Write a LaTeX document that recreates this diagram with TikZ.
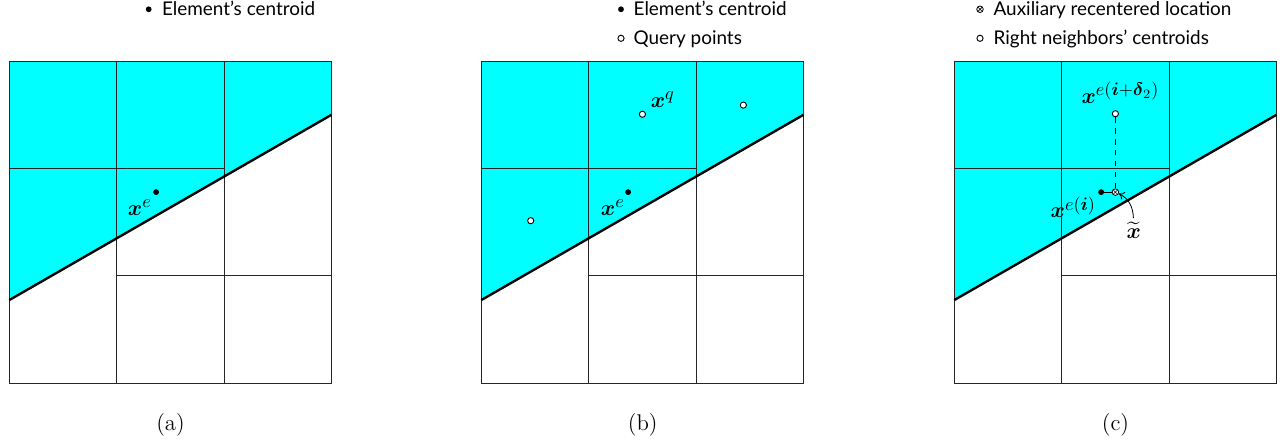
\documentclass[tikz,border=0pt]{standalone}
\usepackage{amsmath,amssymb}
\usepackage{fontspec}
\newfontfamily\legfont{Lato}
\usetikzlibrary{arrows.meta}
\DeclareMathSizes{12.5}{12.5}{9.6}{7.5}
\definecolor{aqua}{RGB}{0,255,255}
\tikzset{
  gridline/.style={line width=0.45pt, black!85},
  bnd/.style={line width=1.3pt, black},
  cdot/.style={circle, fill=black, inner sep=0pt, minimum size=3.2pt},
  qdot/.style={circle, draw=black, fill=white, inner sep=0pt, minimum size=3.4pt, line width=0.5pt},
  auxdot/.style={circle, draw=black, fill=white, inner sep=0pt, minimum size=3.6pt, line width=0.45pt,
    path picture={\draw[line width=0.35pt] (path picture bounding box.north west) -- (path picture bounding box.south east)
      (path picture bounding box.south west) -- (path picture bounding box.north east);}},
  lbl/.style={inner sep=0pt, font=\fontsize{12.5}{14}\selectfont},
  legtext/.style={inner sep=0pt, anchor=base west, font=\legfont\fontsize{10.4}{12}\selectfont},
  captxt/.style={inner sep=0pt, font=\fontsize{12.5}{14}\selectfont},
}
\newcommand\cutpanel{%
  \fill[aqua] (0,0.775) -- (3,2.5) -- (3,3) -- (0,3) -- cycle;
  \draw[gridline] (0,0) rectangle (3,3) (1,0) -- (1,3) (2,0) -- (2,3) (0,2) -- (2,2) (1,1) -- (3,1);
  \draw[bnd] (0,0.775) -- (3,2.5);
}
\begin{document}
\begin{tikzpicture}[x=0.55pt,y=-0.55pt]
\useasboundingbox (0,0) rectangle (1283,447);

% ---------- panel (a)
\begin{scope}[shift={(9.3,383.3)},x=59.07pt,y=59.07pt]
  \cutpanel
  \node[cdot] (ae) at (1.367,1.78) {};
  \node[lbl] (aelbl) at (1.215,1.64) {$\boldsymbol{x}^{e}$};
\end{scope}
\node[cdot] (alegdot) at (148.7,9.3) {};
\node[legtext] (alegtxt) at (161.7,16) {Element’s centroid};
\node[captxt] (acap) at (170.5,425) {(a)};

% ---------- panel (b)
\begin{scope}[shift={(481.3,383.3)},x=59.07pt,y=59.07pt]
  \cutpanel
  \node[cdot] (be) at (1.367,1.78) {};
  \node[lbl] (belbl) at (1.225,1.635) {$\boldsymbol{x}^{e}$};
  \node[qdot] (bq1) at (1.5,2.505) {};
  \node[qdot] (bq2) at (2.44,2.59) {};
  \node[qdot] (bq3) at (0.46,1.514) {};
  \node[lbl] (bqlbl) at (1.69,2.645) {$\boldsymbol{x}^{q}$};
\end{scope}
\node[cdot] (blegdot) at (621,9.3) {};
\node[legtext] (blegtxt) at (633.3,16) {Element’s centroid};
\node[qdot] (blegq) at (621,38.3) {};
\node[legtext] (blegqtxt) at (633.3,45) {Query points};
\node[captxt] (bcap) at (642.8,425) {(b)};

% ---------- panel (c)
\begin{scope}[shift={(954.3,383.3)},x=59.07pt,y=59.07pt]
  \cutpanel
  \node[cdot] (ce) at (1.367,1.78) {};
  \node[auxdot] (caux) at (1.5,1.78) {};
  \node[qdot] (cq) at (1.5,2.51) {};
  \draw[dashed, line width=0.45pt] (cq) -- (caux);
  \draw[line width=0.45pt] (ce) -- (caux);
  \node[lbl] (cqlbl) at (1.547,2.705) {$\boldsymbol{x}^{e(\boldsymbol{i}+\boldsymbol{\delta}_2)}$};
  \node[lbl] (celbl) at (1.108,1.64) {$\boldsymbol{x}^{e(\boldsymbol{i})}$};
  \node[lbl, inner sep=2.2pt] (cxt) at (1.672,1.42) {$\widetilde{\boldsymbol{x}}$};
  \draw[-{To[length=3pt,width=4.5pt]}, line width=0.45pt] (cxt) to[out=92,in=-25] (caux);
\end{scope}
\node[auxdot] (clegaux) at (980,9.3) {};
\node[legtext] (clegauxtxt) at (993.3,16) {Auxiliary recentered location};
\node[qdot] (clegq) at (980,38.3) {};
\node[legtext] (clegqtxt) at (993.3,45) {Right neighbors’ centroids};
\node[captxt] (ccap) at (1115.5,425) {(c)};
\end{tikzpicture}
\end{document}
